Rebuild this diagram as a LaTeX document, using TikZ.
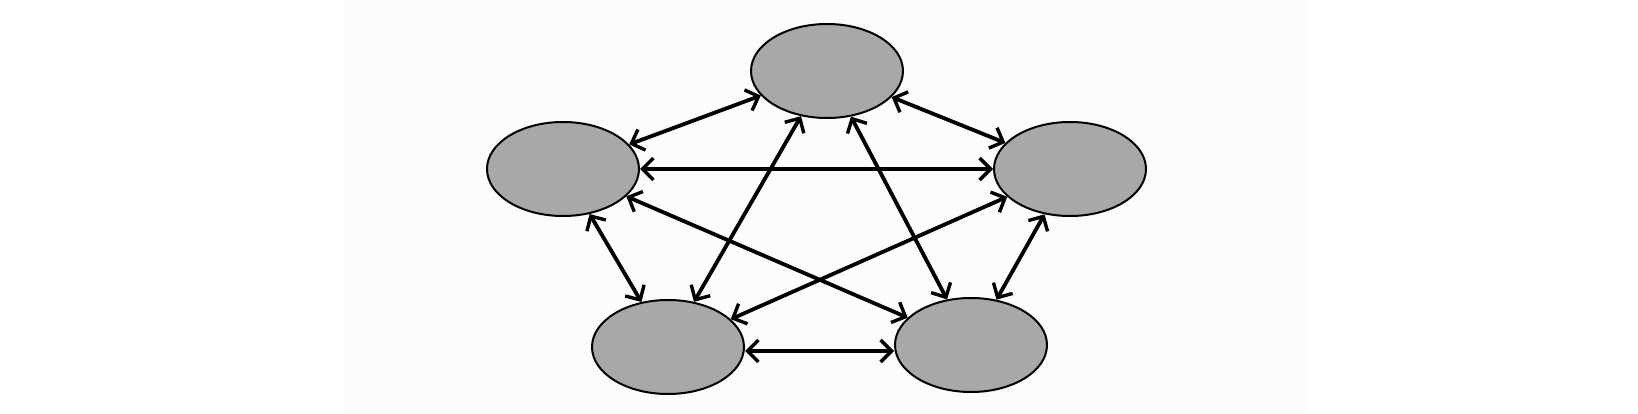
\documentclass[tikz,border=0pt]{standalone}
\usepackage{tikz}
\usetikzlibrary{shapes.geometric, arrows.meta}

\definecolor{peerfill}{RGB}{168,168,168}
\definecolor{pagebg}{RGB}{252,252,252}

\begin{document}
\begin{tikzpicture}[x=1pt, y=-1pt,
    peer/.style={ellipse, draw=black, line width=2pt, fill=peerfill,
                 minimum width=152pt, minimum height=94pt, inner sep=0pt},
    link/.style={line width=3.8pt,
                 {Straight Barb[length=11pt, width=22pt, line width=3.4pt]}-{Straight Barb[length=11pt, width=22pt, line width=3.4pt]}}]
    % Page and background
    \useasboundingbox (0,0) rectangle (1638,414);
    \fill[pagebg] (344,0) rectangle (1307,414); % light panel behind the graph

    % The five peers
    \node[peer] (ntop)   at (827, 71)  {};
    \node[peer] (nleft)  at (563, 169) {};
    \node[peer] (nright) at (1070, 169) {};
    \node[peer] (nbl)    at (668, 347) {};
    \node[peer] (nbr)    at (971, 345) {};

    % Outer ring
    \draw[link] (ntop) -- (nleft);
    \draw[link] (ntop) -- (nright);
    \draw[link] (nleft) -- (nbl);
    \draw[link] (nright) -- (nbr);
    \draw[link] ([yshift=-4pt]nbl.east) -- ([yshift=-6pt]nbr.west);

    % Inner star
    \draw[link] (nleft) -- (nright);
    \draw[link] (ntop) -- (nbl);
    \draw[link] (ntop) -- (nbr);
    \draw[link] (nleft) -- (nbr);
    \draw[link] (nright) -- (nbl);
\end{tikzpicture}
\end{document}
